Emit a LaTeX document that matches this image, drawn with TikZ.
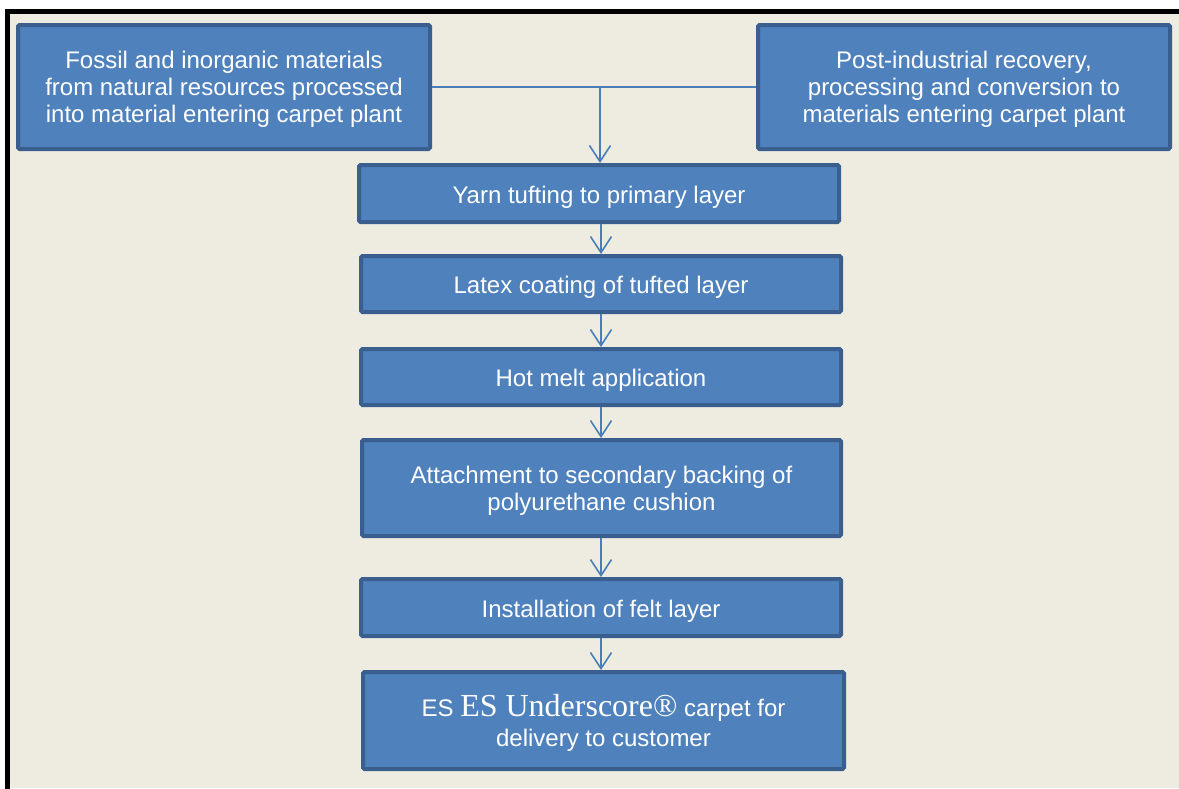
\documentclass[tikz,border=0pt]{standalone}
\usepackage{fontspec}
\setmainfont{Liberation Sans}
\newfontfamily\serifES{Liberation Serif}
\usetikzlibrary{arrows.meta}
\definecolor{bgbeige}{HTML}{EEEBE0}
\definecolor{boxfill}{HTML}{4F81BD}
\definecolor{boxedge}{HTML}{3A5F8E}
\definecolor{linkblue}{HTML}{4A7EBB}
\tikzset{
  procbox/.style={draw=boxedge, fill=boxfill, line width=4pt, rounded corners=1.5pt,
    text=white, font=\fontsize{24}{27}\selectfont, align=center, inner sep=0pt,
    execute at begin node={\rule{0pt}{24pt}}},
  multibox/.style={procbox, text depth=0pt},
  link/.style={draw=linkblue, line width=1.6pt},
  flow/.style={link, -{Straight Barb[length=16pt,width=21pt,line width=1.6pt]}}
}
\begin{document}
\begin{tikzpicture}[x=1pt,y=-1pt]
\useasboundingbox (0,0) rectangle (1179,788);
\fill[white] (0,0) rectangle (1179,788);
\fill[bgbeige] (7,11) rectangle (1179,788);
\draw[black, line width=4.5pt] (7.5,792) -- (7.5,11.5) -- (1185,11.5);

\node[multibox, minimum width=412pt, minimum height=124pt] (L) at (224,87)
  {Fossil and inorganic materials\\from natural resources processed\\into material entering carpet plant};
\node[multibox, minimum width=412pt, minimum height=124pt] (R) at (964,87)
  {Post-industrial recovery,\\processing and conversion to\\materials entering carpet plant};
\node[procbox, minimum width=480pt, minimum height=57pt] (Y) at (599,193.5)
  {Yarn tufting to primary layer};
\node[procbox, minimum width=480pt, minimum height=56pt] (La) at (601,284)
  {Latex coating of tufted layer};
\node[procbox, minimum width=480pt, minimum height=56pt] (H) at (601,377)
  {Hot melt application};
\node[multibox, minimum width=479pt, minimum height=96pt] (A) at (601.5,488)
  {Attachment to secondary backing of\\polyurethane cushion};
\node[procbox, minimum width=480pt, minimum height=57pt] (I) at (601,607.5)
  {Installation of felt layer};
\node[multibox, minimum width=481pt, minimum height=97pt] (E) at (603.5,720.5)
  {ES {\serifES\fontsize{32}{27}\selectfont ES Underscore®} carpet for\\[3pt]delivery to customer};

\coordinate (J) at (600,87);
\draw[link] (L.east) -- (R.west);
\draw[flow] (J) -- (J |- Y.north);
\draw[flow] (La.north |- Y.south) -- (La.north);
\draw[flow] (H.north |- La.south) -- (H.north);
\draw[flow] (H.south) -- (H.south |- A.north);
\draw[flow] (I.north |- A.south) -- (I.north);
\draw[flow] (I.south) -- (I.south |- E.north);
\end{tikzpicture}
\end{document}
